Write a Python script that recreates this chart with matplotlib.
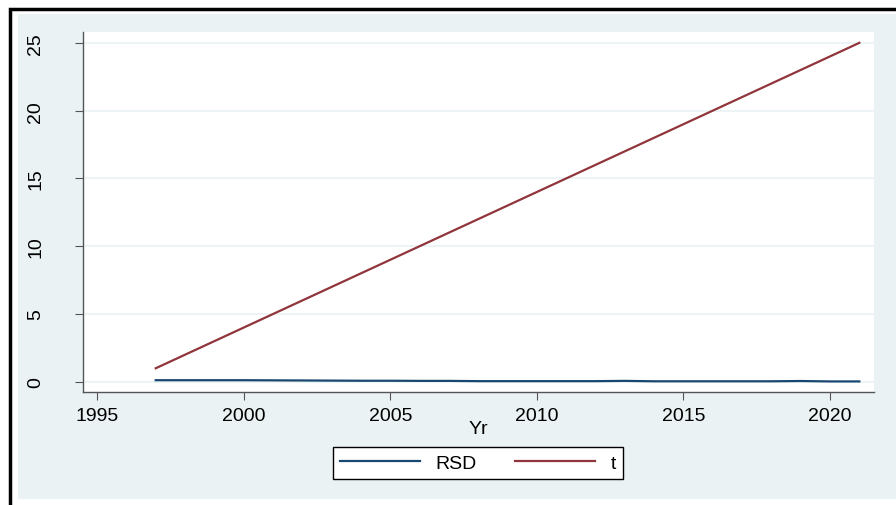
import matplotlib.pyplot as plt
from matplotlib.patches import Rectangle
import numpy as np

plt.rcParams['font.family'] = ['Liberation Sans', 'DejaVu Sans']

years = np.arange(1997, 2022)
t = np.arange(1, 26)
rsd = [0.12, 0.12, 0.12, 0.12, 0.11, 0.10, 0.09, 0.08, 0.08, 0.07,
       0.07, 0.05, 0.05, 0.05, 0.05, 0.05, 0.07, 0.04, 0.04, 0.04,
       0.04, 0.04, 0.06, 0.03, 0.03]

W, H = 896, 506
fig = plt.figure(figsize=(W / 100, H / 100), dpi=100)
fig.patch.set_facecolor('white')

# light outer background (stata style) and black frame
fig.patches.append(Rectangle((18 / W, 1 - 500 / H), 1, (500 - 15) / H,
                             transform=fig.transFigure, facecolor='#eaf2f3',
                             edgecolor='none', zorder=-10))
fig.patches.append(Rectangle((10 / W, -0.1), 1.2, 1.1 - 10 / H,
                             transform=fig.transFigure, facecolor='none',
                             edgecolor='black', linewidth=2.5, zorder=-9))

left, right, top, bottom = 83, 874, 33, 393
ax = fig.add_axes([left / W, 1 - bottom / H, (right - left) / W, (bottom - top) / H])
ax.set_facecolor('white')

l1, = ax.plot(years, rsd, color='#1a476f', lw=1.6)
l2, = ax.plot(years, t, color='#90353b', lw=1.6)

ax.set_xlim(1994.52, 2021.5)
ax.set_ylim(-0.75, 25.8)
ax.set_xticks(range(1995, 2021, 5))
ax.set_yticks(range(0, 26, 5))
ax.grid(axis='y', color='#eaf2f3', lw=1.2)
ax.set_axisbelow(True)
for s in ['top', 'right']:
    ax.spines[s].set_visible(False)
for s in ['left', 'bottom']:
    ax.spines[s].set_color('#555555')
    ax.spines[s].set_linewidth(1.0)
ax.tick_params(colors='#555555', labelcolor='black', labelsize=14, length=6)
ax.tick_params(axis='x', pad=5)
ax.tick_params(axis='y', pad=22)
plt.setp(ax.get_yticklabels(), rotation=90, va='center')
ax.set_xlabel('Yr', fontsize=14, labelpad=-3)

leg = fig.legend([l1, l2], ['RSD', 't'], ncol=2, loc='center',
                 bbox_to_anchor=(478 / W, 1 - 464 / H), fontsize=14,
                 frameon=True, fancybox=False, edgecolor='black', framealpha=1,
                 handlelength=4.1, handletextpad=0.8, columnspacing=2.0,
                 borderpad=0.35, borderaxespad=0)
leg.get_frame().set_linewidth(1.0)

fig.savefig('out.png', dpi=100)
